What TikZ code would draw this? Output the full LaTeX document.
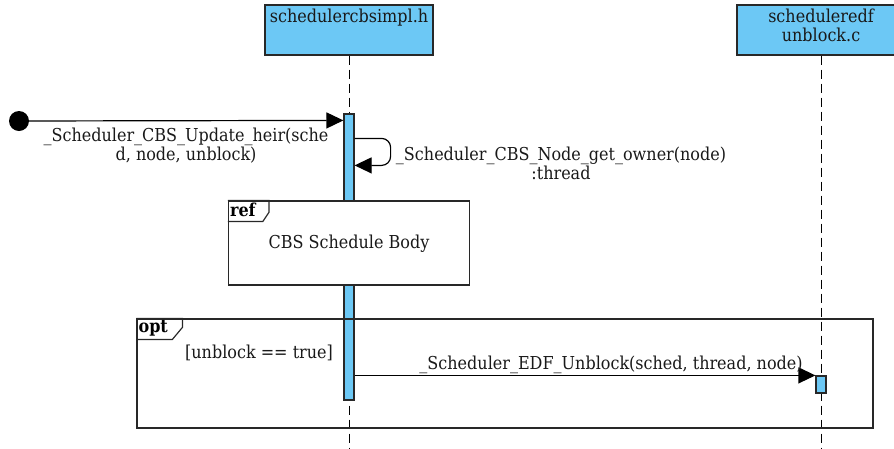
\documentclass[tikz,border=0pt]{standalone}
\usepackage{fontspec}
\setmainfont{DejaVu Serif Condensed}
\usetikzlibrary{arrows.meta}
\definecolor{lifeblue}{RGB}{108,200,245}
\definecolor{edge}{RGB}{40,40,40}
\begin{document}
\begin{tikzpicture}[x=1pt,y=-1pt,
  font=\fontsize{17.8}{19}\selectfont,
  headbox/.style={draw=edge,line width=1.2pt,fill=lifeblue,minimum width=168pt,minimum height=50pt,inner sep=0pt},
  lifeline/.style={draw=black,line width=1pt,dash pattern=on 9pt off 5pt},
  actbar/.style={draw=edge,line width=1.2pt,fill=lifeblue,minimum width=10pt,inner sep=0pt},
  msg/.style={draw=black,line width=1.2pt,-{Triangle[length=17pt,width=16pt]}},
  frame/.style={draw=edge,line width=1.2pt},
  tagtext/.style={font=\fontsize{17.8}{19}\selectfont\bfseries,anchor=north west,inner sep=1pt},
  lbl/.style={inner sep=0pt,align=center,text=black!90}]
\clip (0,0) rectangle (894,448);

% lifeline heads
\node[headbox] (h1) at (349,30) {};
\node[lbl,anchor=north] (h1t) at (349,9) {schedulercbsimpl.h};
\node[headbox] (h2) at (821,30) {};
\node[lbl,anchor=north] (h2t) at (821,9) {scheduleredf\\unblock.c};

% lifelines
\coordinate (l1end) at (349,448);
\coordinate (l2end) at (821,448);
\draw[lifeline] (h1.south) -- (l1end);
\draw[lifeline] (h2.south) -- (l2end);

% activation bars
\node[actbar,minimum height=286pt] (act1) at (349,257) {};
\node[actbar,minimum height=17pt] (act2) at (821,384.5) {};

% found message
\fill (19,121) circle (10pt);
\node[circle,minimum size=20pt,inner sep=0pt] (start) at (19,121) {};
\coordinate (m1end) at ([yshift=-7pt]act1.north west);
\draw[msg] (start.center) -- (m1end);
\node[lbl] (m1t) at (186,146) {\_Scheduler\_CBS\_Update\_heir(sche\\d, node, unblock)};

% self call
\coordinate (s1) at ([yshift=-25pt]act1.north east);
\coordinate (s2) at ([yshift=-52pt]act1.north east);
\draw[msg,rounded corners=9pt] (s1) -- ++(36,0) -- ++(0,27) -- (s2);
\node[lbl] (m2t) at (561,163) {\_Scheduler\_CBS\_Node\_get\_owner(node)\\:thread};

% interaction use
\node[frame,fill=white,minimum width=241pt,minimum height=84pt,inner sep=0pt] (ref) at (349,243) {};
\draw[frame] (ref.north west) -- ++(41,0) -- ++(0,12) -- ++(-6,9) -- ++(-35,0);
\node[tagtext] (reft) at ([xshift=1pt,yshift=-1pt]ref.north west) {ref};
\node[lbl] (refb) at (349,244) {CBS Schedule Body};

% optional fragment
\node[frame,minimum width=736pt,minimum height=109pt,inner sep=0pt] (opt) at (505,373.5) {};
\draw[frame] (opt.north west) -- ++(46,0) -- ++(0,9) -- ++(-10,12) -- ++(-36,0);
\node[tagtext] (optt) at ([xshift=1pt,yshift=-1pt]opt.north west) {opt};
\node[lbl] (guard) at (259,353) {[unblock == true]};

% message to EDF
\coordinate (m3start) at (act1.east |- act2.north west);
\draw[msg] (m3start) -- (act2.north west);
\node[lbl] (m3t) at (611,365) {\_Scheduler\_EDF\_Unblock(sched, thread, node)};
\end{tikzpicture}
\end{document}
